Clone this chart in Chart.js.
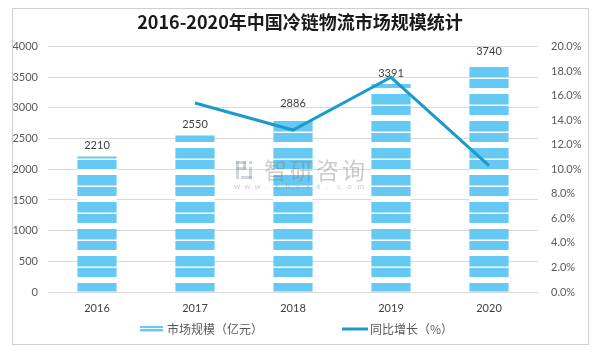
<!DOCTYPE html>
<html>
<head>
<meta charset="utf-8">
<script src="https://cdn.jsdelivr.net/npm/chart.js@4.4.0/dist/chart.umd.min.js"></script>
<style>
  html, body { margin: 0; padding: 0; background: #fff; }
  #wrap { position: relative; width: 600px; height: 353px; }
  #frame { position: absolute; left: 12px; top: 8px; width: 575px; height: 335px; border: 1px solid #cfcfcf; pointer-events: none; }
</style>
</head>
<body>
<div id="wrap">
  <canvas id="chart" width="600" height="353"></canvas>
  <div id="frame"></div>
</div>
<script>
// data
const years = ['2016', '2017', '2018', '2019', '2020'];
const marketSize = [2210, 2550, 2886, 3391, 3740];        // 亿元
const growthRate = [null, 15.4, 13.2, 17.5, 10.3];        // %
const sizeLabel = '市场规模（亿元）';
const growthLabel = '同比增长（%）';

const barBlue = '#66C9F3';
const lineBlue = '#1A9BCB';
const numFont = 'Lato, "Noto Sans", sans-serif';
const cjkFont = '"Noto Sans CJK SC", "Noto Sans", sans-serif';

// striped fill for the bars (blue bands with white gaps)
function makeStripes() {
  const c = document.createElement('canvas');
  c.width = 4;
  c.height = 27;
  const g = c.getContext('2d');
  g.fillStyle = barBlue;
  g.fillRect(0, 0, 4, 27);
  g.fillStyle = '#ffffff';
  g.fillRect(0, 1.5, 4, 1.5);
  g.fillRect(0, 12, 4, 6);
  return g.createPattern(c, 'repeat');
}
const stripes = makeStripes();

// keep the stripes anchored on the bottom of the plot
const anchorStripes = {
  id: 'anchorStripes',
  beforeDatasetsDraw(chart) {
    stripes.setTransform(new DOMMatrix([1, 0, 0, 1, 0, chart.chartArea.bottom]));
  }
};

// value labels above bars
const barLabels = {
  id: 'barLabels',
  afterDatasetDraw(chart, args) {
    if (args.meta.type !== 'bar') return;
    const ctx = chart.ctx;
    ctx.save();
    ctx.font = '11px ' + numFont;
    ctx.fillStyle = '#404040';
    ctx.textAlign = 'center';
    ctx.textBaseline = 'middle';
    args.meta.data.forEach((bar, i) => {
      ctx.fillText(String(marketSize[i]), bar.x, bar.y - 11);
    });
    ctx.restore();
  }
};

// faint site watermark
const watermark = {
  id: 'watermark',
  afterDatasetsDraw(chart) {
    const ctx = chart.ctx;
    ctx.save();
    ctx.globalAlpha = 0.4;
    // little logo block
    ctx.fillStyle = '#8a96b0';
    ctx.fillRect(236, 161, 10, 3);
    ctx.fillRect(236, 161, 3, 18);
    ctx.fillRect(243, 161, 3, 9);
    ctx.fillRect(236, 167, 10, 3);
    ctx.fillRect(249, 161, 3, 3);
    ctx.fillRect(249, 167, 3, 12);
    ctx.fillRect(241, 176, 11, 3);
    ctx.fillStyle = '#808080';
    ctx.font = '23px ' + cjkFont;
    ctx.textBaseline = 'middle';
    const word = '智研咨询';
    for (let i = 0; i < word.length; i++) {
      ctx.fillText(word[i], 264 + i * 26, 170);
    }
    ctx.font = '8px ' + numFont;
    const site = 'www.chyxx.com';
    for (let i = 0; i < site.length; i++) {
      ctx.fillText(site[i], 234 + i * 10.3, 186);
    }
    ctx.restore();
  }
};

// legend drawn under the x axis
const bottomLegend = {
  id: 'bottomLegend',
  afterDraw(chart) {
    const ctx = chart.ctx;
    const y = 329;
    ctx.save();
    ctx.fillStyle = barBlue;
    ctx.fillRect(140, y - 3, 23, 2);
    ctx.fillRect(140, y, 23, 2);
    ctx.fillStyle = '#b8e6fa';
    ctx.fillRect(140, y + 2, 23, 1);
    ctx.strokeStyle = lineBlue;
    ctx.lineWidth = 3;
    ctx.beginPath();
    ctx.moveTo(342, y);
    ctx.lineTo(368, y);
    ctx.stroke();
    ctx.font = '12px ' + cjkFont;
    ctx.fillStyle = '#595959';
    ctx.textBaseline = 'middle';
    ctx.fillText(sizeLabel, 167, y);
    ctx.fillText(growthLabel, 370, y);
    ctx.restore();
  }
};

const ctx = document.getElementById('chart').getContext('2d');
const chart = new Chart(ctx, {
  type: 'bar',
  data: {
    labels: years,
    datasets: [
      {
        type: 'line',
        label: growthLabel,
        data: growthRate,
        yAxisID: 'y1',
        borderColor: lineBlue,
        borderWidth: 3,
        pointRadius: 0,
        tension: 0,
        order: 0
      },
      {
        type: 'bar',
        label: sizeLabel,
        data: marketSize,
        yAxisID: 'y',
        backgroundColor: stripes,
        barPercentage: 0.4,
        categoryPercentage: 1,
        order: 1
      }
    ]
  },
  options: {
    responsive: false,
    animation: false,
    devicePixelRatio: 1,
    layout: { padding: { left: 0, right: 0, top: 0, bottom: 36 } },
    plugins: {
      legend: { display: false },
      tooltip: { enabled: false },
      title: {
        display: true,
        text: '2016-2020年中国冷链物流市场规模统计',
        color: '#1a1a1a',
        font: { family: cjkFont, size: 18, weight: 'bold', lineHeight: 1.2 },
        padding: { top: 11, bottom: 14 }
      }
    },
    scales: {
      x: {
        grid: { display: false, drawTicks: false },
        border: { display: false },
        ticks: { color: '#404040', font: { family: numFont, size: 11 }, padding: 10 },
        afterFit(scale) { scale.height = 25; }
      },
      y: {
        position: 'left',
        min: 0,
        max: 4000,
        ticks: {
          stepSize: 500,
          color: '#595959',
          font: { family: numFont, size: 11 },
          padding: 10,
          callback: v => String(v)
        },
        grid: { color: '#d9d9d9', drawTicks: false },
        border: { display: false },
        afterFit(scale) { scale.width = 48; }
      },
      y1: {
        position: 'right',
        min: 0,
        max: 20,
        ticks: {
          stepSize: 2,
          color: '#595959',
          font: { family: numFont, size: 11 },
          padding: 13,
          callback: v => v.toFixed(1) + '%'
        },
        grid: { display: false, drawTicks: false },
        border: { display: false },
        afterFit(scale) { scale.width = 62; }
      }
    }
  },
  plugins: [anchorStripes, barLabels, watermark, bottomLegend]
});
</script>
</body>
</html>
